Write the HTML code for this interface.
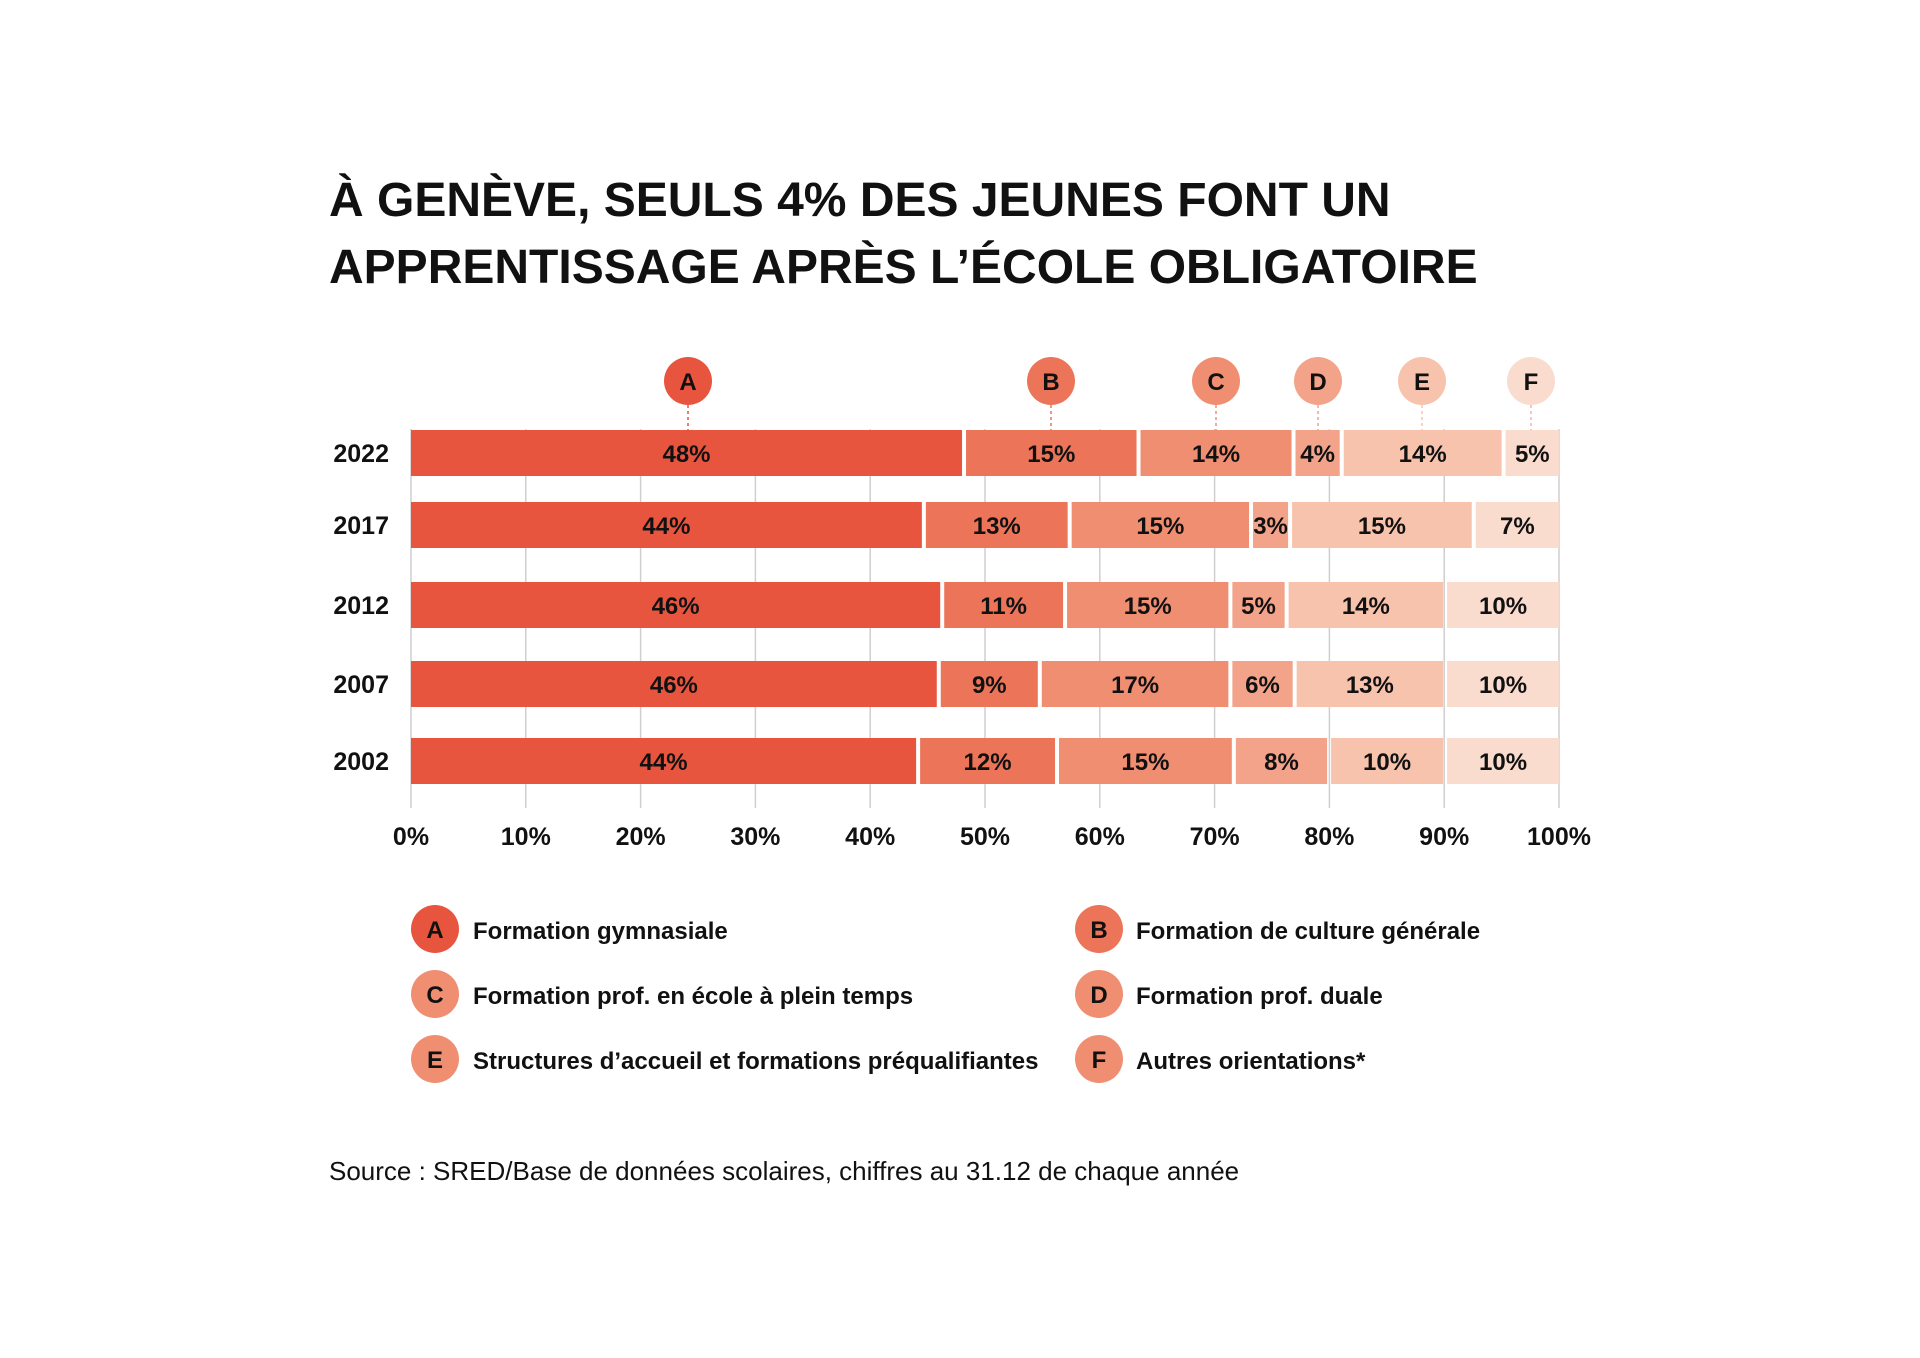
<!DOCTYPE html>
<html><head><meta charset="utf-8"><style>
html,body{margin:0;padding:0;background:#fff;}
svg{display:block;font-family:"Liberation Sans",sans-serif;}
</style></head><body>
<svg width="1920" height="1358" viewBox="0 0 1920 1358" xmlns="http://www.w3.org/2000/svg">
<rect width="1920" height="1358" fill="#fff"/>
<text x="329" y="216" font-size="48" font-weight="bold" fill="#111">À GENÈVE, SEULS 4% DES JEUNES FONT UN</text>
<text x="329" y="283" font-size="48" font-weight="bold" fill="#111">APPRENTISSAGE APRÈS L’ÉCOLE OBLIGATOIRE</text>
<g id="grid" stroke="#cfcfcf" stroke-width="1.5"></g>
<g id="bars"></g>
<g id="ticks" font-size="25" font-weight="bold" fill="#111" text-anchor="middle"></g>
<g id="heads" font-size="24" font-weight="bold" text-anchor="middle" fill="#111"></g>
<g font-size="24" font-weight="bold" fill="#111">
<circle cx="435" cy="929" r="24" fill="#e8553f"/><text x="435" y="938" text-anchor="middle">A</text>
<text x="473" y="939">Formation gymnasiale</text>
<circle cx="435" cy="994" r="24" fill="#f08e72"/><text x="435" y="1003" text-anchor="middle">C</text>
<text x="473" y="1004">Formation prof. en école à plein temps</text>
<circle cx="435" cy="1059" r="24" fill="#f08e72"/><text x="435" y="1068" text-anchor="middle">E</text>
<text x="473" y="1069">Structures d’accueil et formations préqualifiantes</text>
<circle cx="1099" cy="929" r="24" fill="#ec7458"/><text x="1099" y="938" text-anchor="middle">B</text>
<text x="1136" y="939">Formation de culture générale</text>
<circle cx="1099" cy="994" r="24" fill="#f08e72"/><text x="1099" y="1003" text-anchor="middle">D</text>
<text x="1136" y="1004">Formation prof. duale</text>
<circle cx="1099" cy="1059" r="24" fill="#f08e72"/><text x="1099" y="1068" text-anchor="middle">F</text>
<text x="1136" y="1069">Autres orientations*</text>
</g>
<text x="329" y="1180" font-size="26" fill="#111">Source : SRED/Base de données scolaires, chiffres au 31.12 de chaque année</text>
</svg>
<script>
const NS="http://www.w3.org/2000/svg";
const X0=411,W=1148;const X=p=>X0+W*p/100;
function el(t,a,par,txt){const e=document.createElementNS(NS,t);for(const k in a)e.setAttribute(k,a[k]);if(txt!=null)e.textContent=txt;document.getElementById(par).appendChild(e);return e;}
for(let i=0;i<=10;i++){const x=X(i*10);el('line',{x1:x,x2:x,y1:429,y2:808},'grid');el('text',{x:x,y:845},'ticks',i*10+'%');}
const cols=["#e8553f","#ec7458","#f08e72","#f2a389","#f7c3ad","#fadccf"];
const rows=[
["2022",430,[48.0,63.2,76.7,80.9,95.0,100],["48%","15%","14%","4%","14%","5%"]],
["2017",502,[44.5,57.2,73.0,76.4,92.4,100],["44%","13%","15%","3%","15%","7%"]],
["2012",582,[46.1,56.8,71.2,76.1,89.9,100],["46%","11%","15%","5%","14%","10%"]],
["2007",661,[45.8,54.6,71.2,76.8,89.9,100],["46%","9%","17%","6%","13%","10%"]],
["2002",738,[44.0,56.1,71.5,79.8,89.9,100],["44%","12%","15%","8%","10%","10%"]]];
rows.forEach(r=>{const y=r[1],h=46;el('text',{x:389,y:y+32,'font-size':25,'font-weight':'bold','text-anchor':'end',fill:'#111'},'bars',r[0]);
let prev=0;r[2].forEach((c,i)=>{const x1=X(prev)+(i?4:0),x2=X(c);el('rect',{x:x1,y:y,width:x2-x1,height:h,fill:cols[i]},'bars');
el('text',{x:(x1+x2)/2,y:y+32,'font-size':24,'font-weight':'bold','text-anchor':'middle',fill:'#111'},'bars',r[3][i]);prev=c;});});
const heads=[["A",688],["B",1051],["C",1216],["D",1318],["E",1422],["F",1531]];
heads.forEach((h,i)=>{el('line',{x1:h[1],x2:h[1],y1:405,y2:430,stroke:cols[i]=="#fadccf"?"#f2b9a5":cols[i],'stroke-width':1.5,'stroke-dasharray':'3,3'},'heads');
el('circle',{cx:h[1],cy:381,r:24,fill:cols[i]},'heads');el('text',{x:h[1],y:390},'heads',h[0]);});
</script>
</body></html>
